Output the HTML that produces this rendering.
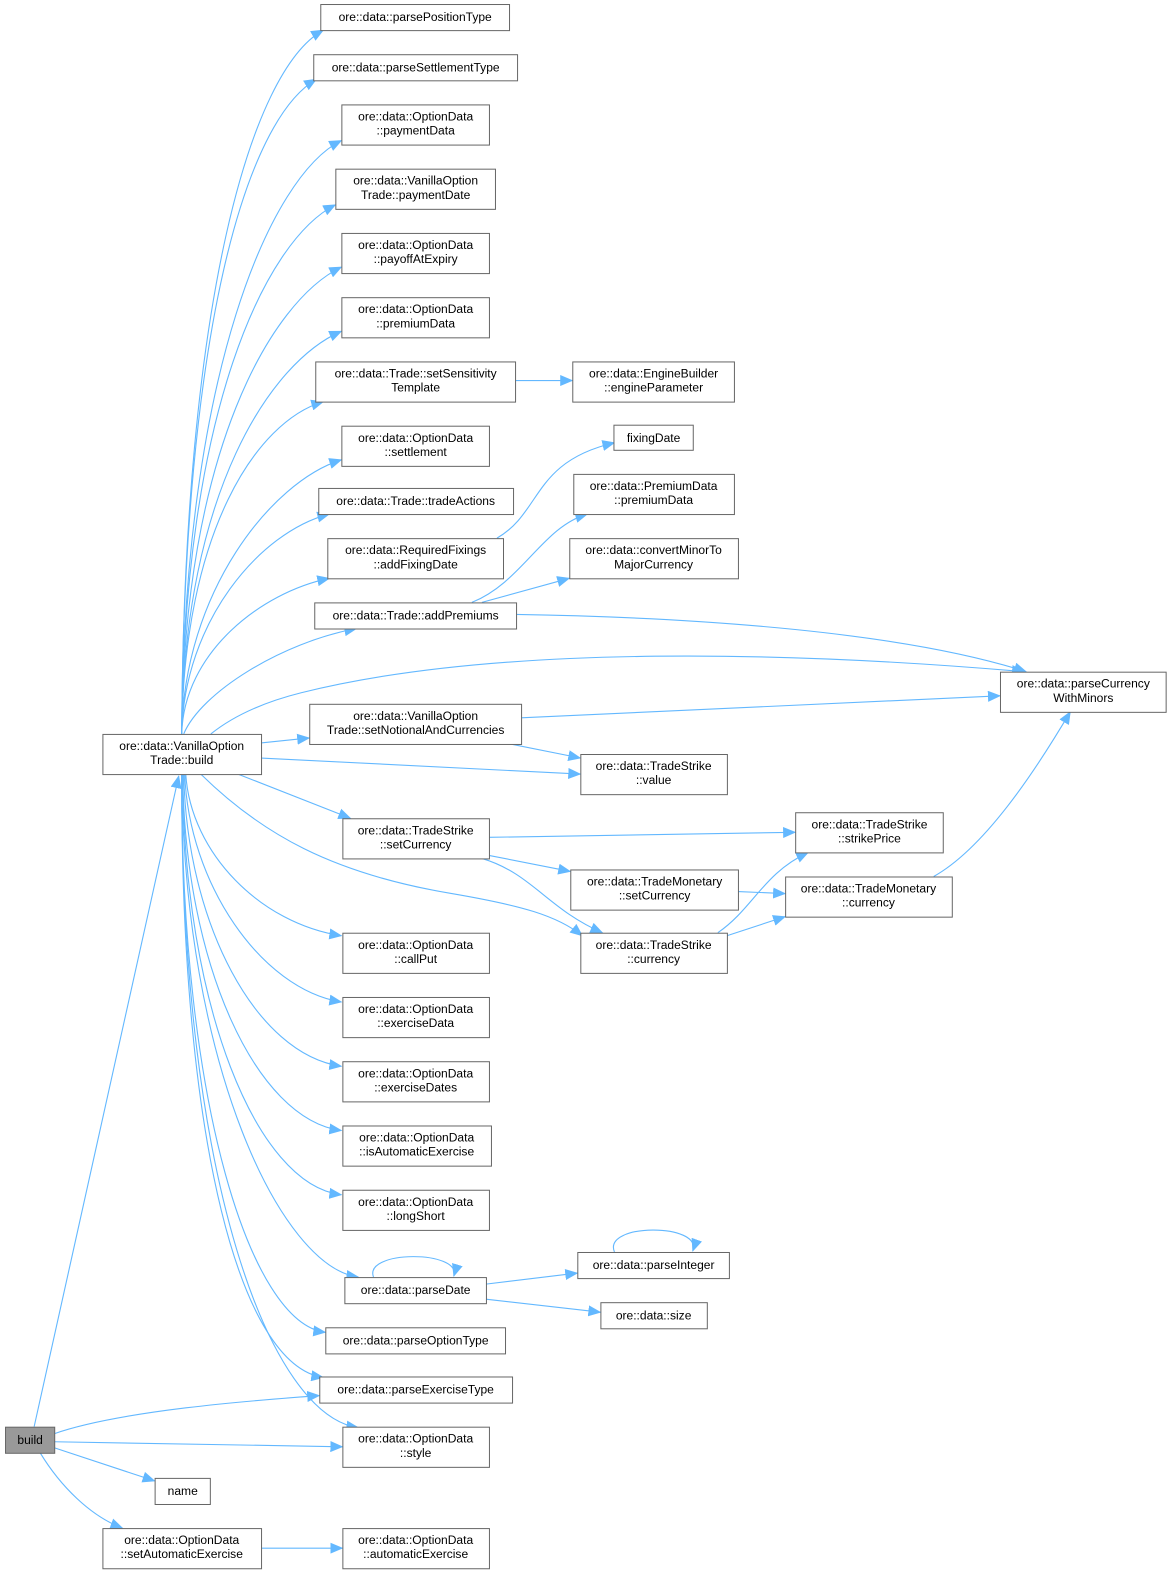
<!DOCTYPE html>
<html><head><meta charset="utf-8"><style>
html,body{margin:0;padding:0;background:#fff;}
svg{display:block;}
text{font-family:"Liberation Sans",Arial,sans-serif;font-size:12px;fill:#000;}
.n{fill:#fff;stroke:#666;stroke-width:1;}
.e{fill:none;stroke:#63b8ff;stroke-width:1.1;}
</style></head><body>
<svg width="1171" height="1574" viewBox="0 0 1171 1574" xmlns="http://www.w3.org/2000/svg">
<defs>
<marker id="a" markerUnits="userSpaceOnUse" markerWidth="14" markerHeight="11" refX="12" refY="5.5" orient="auto">
<path d="M0,0 L13,5.5 L0,11 Z" fill="#63b8ff"/>
</marker>
</defs>
<g transform="scale(1.004)">
<g>
<path class="e" marker-end="url(#a)" d="M181,731 C183,300 250,70 322,30"/>
<path class="e" marker-end="url(#a)" d="M181,731 C183,330 245,120 315,79"/>
<path class="e" marker-end="url(#a)" d="M181,731 C183,370 270,175 340,140"/>
<path class="e" marker-end="url(#a)" d="M181,731 C183,410 264,240 334,204"/>
<path class="e" marker-end="url(#a)" d="M181,731 C183,450 270,300 340,266"/>
<path class="e" marker-end="url(#a)" d="M181,731 C183,490 270,360 340,330"/>
<path class="e" marker-end="url(#a)" d="M181,731 C183,530 255,420 322,400"/>
<path class="e" marker-end="url(#a)" d="M181,731 C183,590 270,480 340,458"/>
<path class="e" marker-end="url(#a)" d="M181,731 C183,620 258,530 328,512"/>
<path class="e" marker-end="url(#a)" d="M181,731 C183,650 260,590 328,576"/>
<path class="e" marker-end="url(#a)" d="M183,731 C200,690 280,640 355,626"/>
<path class="e" marker-end="url(#a)" d="M210,731 C230,715 260,700 300,690 C500,640 800,650 1020,669"/>
<path class="e" marker-end="url(#a)" d="M260,740 L308,735"/>
<path class="e" marker-end="url(#a)" d="M260,755 L578,771"/>
<path class="e" marker-end="url(#a)" d="M237,771 L349,815"/>
<path class="e" marker-end="url(#a)" d="M200,771 C260,830 330,870 450,890 C520,902 555,912 580,932"/>
<path class="e" marker-end="url(#a)" d="M185,771 C190,850 260,920 340,932"/>
<path class="e" marker-end="url(#a)" d="M184,771 C188,880 260,985 340,998"/>
<path class="e" marker-end="url(#a)" d="M183,771 C186,920 255,1050 340,1062"/>
<path class="e" marker-end="url(#a)" d="M182,771 C184,960 255,1115 340,1126"/>
<path class="e" marker-end="url(#a)" d="M182,771 C183,1000 255,1180 340,1190"/>
<path class="e" marker-end="url(#a)" d="M181,771 C183,1060 280,1262 357,1272"/>
<path class="e" marker-end="url(#a)" d="M181,771 C180,1100 250,1318 324,1327"/>
<path class="e" marker-end="url(#a)" d="M181,771 C180,1140 240,1360 322,1372"/>
<path class="e" marker-end="url(#a)" d="M181,771 C180,1180 270,1410 357,1422"/>
<path class="e" marker-end="url(#a)" d="M34,1421 L178,773"/>
<path class="e" marker-end="url(#a)" d="M54,1428 C120,1405 250,1395 318,1390"/>
<path class="e" marker-end="url(#a)" d="M54,1436 L341,1441"/>
<path class="e" marker-end="url(#a)" d="M54,1442 L154,1475"/>
<path class="e" marker-end="url(#a)" d="M40,1447 C60,1480 90,1510 122,1522"/>
<path class="e" marker-end="url(#a)" d="M260,1542 L341,1542"/>
<path class="e" marker-end="url(#a)" d="M513,379 L570,379"/>
<path class="e" marker-end="url(#a)" d="M495,536 C540,510 530,460 612,441"/>
<path class="e" marker-end="url(#a)" d="M470,600 C520,580 540,525 585,512"/>
<path class="e" marker-end="url(#a)" d="M480,600 L567,576"/>
<path class="e" marker-end="url(#a)" d="M514,612 C700,615 900,630 1022,669"/>
<path class="e" marker-end="url(#a)" d="M519,715 L996,693"/>
<path class="e" marker-end="url(#a)" d="M508,741 L578,755"/>
<path class="e" marker-end="url(#a)" d="M487,834 L792,829"/>
<path class="e" marker-end="url(#a)" d="M487,852 L568,868"/>
<path class="e" marker-end="url(#a)" d="M480,855 C530,870 545,905 600,929"/>
<path class="e" marker-end="url(#a)" d="M735,888 L782,890"/>
<path class="e" marker-end="url(#a)" d="M715,929 C750,905 760,870 805,849"/>
<path class="e" marker-end="url(#a)" d="M724,932 L782,913"/>
<path class="e" marker-end="url(#a)" d="M930,873 C980,845 1030,770 1066,709"/>
<path class="e" marker-end="url(#a)" d="M372,1272 C362,1245 460,1245 452,1271"/>
<path class="e" marker-end="url(#a)" d="M612,1247 C600,1218 700,1218 690,1246"/>
<path class="e" marker-end="url(#a)" d="M484,1279 L575,1268"/>
<path class="e" marker-end="url(#a)" d="M484,1294 L598,1307"/>
</g>
<g text-anchor="middle">
<rect class="n" x="319.5" y="4.5" width="188" height="26"/><text x="413.5" y="21">ore::data::parsePositionType</text>
<rect class="n" x="312.5" y="54.5" width="203" height="26"/><text x="414" y="71">ore::data::parseSettlementType</text>
<rect class="n" x="340.5" y="104.5" width="147" height="40"/><text x="414" y="120">ore::data::OptionData</text><text x="414" y="134">::paymentData</text>
<rect class="n" x="334.5" y="168.5" width="159" height="40"/><text x="414" y="184">ore::data::VanillaOption</text><text x="414" y="198">Trade::paymentDate</text>
<rect class="n" x="340.5" y="232.5" width="147" height="40"/><text x="414" y="248">ore::data::OptionData</text><text x="414" y="262">::payoffAtExpiry</text>
<rect class="n" x="340.5" y="296.5" width="147" height="40"/><text x="414" y="312">ore::data::OptionData</text><text x="414" y="326">::premiumData</text>
<rect class="n" x="314.5" y="360.5" width="199" height="40"/><text x="414" y="376">ore::data::Trade::setSensitivity</text><text x="414" y="390">Template</text>
<rect class="n" x="570.5" y="360.5" width="161" height="40"/><text x="651" y="376">ore::data::EngineBuilder</text><text x="651" y="390">::engineParameter</text>
<rect class="n" x="340.5" y="424.5" width="147" height="40"/><text x="414" y="440">ore::data::OptionData</text><text x="414" y="454">::settlement</text>
<rect class="n" x="611.5" y="423.5" width="79" height="25"/><text x="651" y="440">fixingDate</text>
<rect class="n" x="317.5" y="486.5" width="194" height="26"/><text x="414" y="503">ore::data::Trade::tradeActions</text>
<rect class="n" x="571.5" y="472.5" width="160" height="40"/><text x="651" y="488">ore::data::PremiumData</text><text x="651" y="502">::premiumData</text>
<rect class="n" x="326.5" y="536.5" width="175" height="40"/><text x="414" y="552">ore::data::RequiredFixings</text><text x="414" y="566">::addFixingDate</text>
<rect class="n" x="567.5" y="536.5" width="168" height="40"/><text x="651" y="552">ore::data::convertMinorTo</text><text x="651" y="566">MajorCurrency</text>
<rect class="n" x="313.5" y="600.5" width="201" height="26"/><text x="414" y="617">ore::data::Trade::addPremiums</text>
<rect class="n" x="996.5" y="669.5" width="165" height="40"/><text x="1079" y="685">ore::data::parseCurrency</text><text x="1079" y="699">WithMinors</text>
<rect class="n" x="102.5" y="731.5" width="158" height="40"/><text x="181" y="747">ore::data::VanillaOption</text><text x="181" y="761">Trade::build</text>
<rect class="n" x="308.5" y="701.5" width="211" height="40"/><text x="414" y="717">ore::data::VanillaOption</text><text x="414" y="731">Trade::setNotionalAndCurrencies</text>
<rect class="n" x="578.5" y="751.5" width="146" height="40"/><text x="651" y="767">ore::data::TradeStrike</text><text x="651" y="781">::value</text>
<rect class="n" x="341.5" y="815.5" width="146" height="40"/><text x="414" y="831">ore::data::TradeStrike</text><text x="414" y="845">::setCurrency</text>
<rect class="n" x="792.5" y="809.5" width="147" height="40"/><text x="866" y="825">ore::data::TradeStrike</text><text x="866" y="839">::strikePrice</text>
<rect class="n" x="568.5" y="866.5" width="167" height="40"/><text x="652" y="882">ore::data::TradeMonetary</text><text x="652" y="896">::setCurrency</text>
<rect class="n" x="782.5" y="873.5" width="166" height="40"/><text x="865" y="889">ore::data::TradeMonetary</text><text x="865" y="903">::currency</text>
<rect class="n" x="578.5" y="929.5" width="146" height="40"/><text x="651" y="945">ore::data::TradeStrike</text><text x="651" y="959">::currency</text>
<rect class="n" x="341.5" y="929.5" width="146" height="40"/><text x="414" y="945">ore::data::OptionData</text><text x="414" y="959">::callPut</text>
<rect class="n" x="341.5" y="993.5" width="146" height="40"/><text x="414" y="1009">ore::data::OptionData</text><text x="414" y="1023">::exerciseData</text>
<rect class="n" x="341.5" y="1057.5" width="146" height="40"/><text x="414" y="1073">ore::data::OptionData</text><text x="414" y="1087">::exerciseDates</text>
<rect class="n" x="341.5" y="1121.5" width="148" height="40"/><text x="415" y="1137">ore::data::OptionData</text><text x="415" y="1151">::isAutomaticExercise</text>
<rect class="n" x="341.5" y="1185.5" width="146" height="40"/><text x="414" y="1201">ore::data::OptionData</text><text x="414" y="1215">::longShort</text>
<rect class="n" x="575.5" y="1247.5" width="151" height="26"/><text x="651" y="1264">ore::data::parseInteger</text>
<rect class="n" x="343.5" y="1272.5" width="141" height="26"/><text x="414" y="1289">ore::data::parseDate</text>
<rect class="n" x="598.5" y="1297.5" width="106" height="26"/><text x="651" y="1314">ore::data::size</text>
<rect class="n" x="324.5" y="1322.5" width="179" height="26"/><text x="414" y="1339">ore::data::parseOptionType</text>
<rect class="n" x="318.5" y="1371.5" width="192" height="26"/><text x="414" y="1388">ore::data::parseExerciseType</text>
<rect x="5.5" y="1421.5" width="49" height="26" fill="#999" stroke="#666"/><text x="30" y="1438">build</text>
<rect class="n" x="341.5" y="1421.5" width="146" height="40"/><text x="414" y="1437">ore::data::OptionData</text><text x="414" y="1451">::style</text>
<rect class="n" x="154.5" y="1472.5" width="55" height="26"/><text x="182" y="1489">name</text>
<rect class="n" x="102.5" y="1522.5" width="158" height="40"/><text x="181" y="1538">ore::data::OptionData</text><text x="181" y="1552">::setAutomaticExercise</text>
<rect class="n" x="341.5" y="1522.5" width="146" height="40"/><text x="414" y="1538">ore::data::OptionData</text><text x="414" y="1552">::automaticExercise</text>
</g>
</g>
</svg>
</body></html>
